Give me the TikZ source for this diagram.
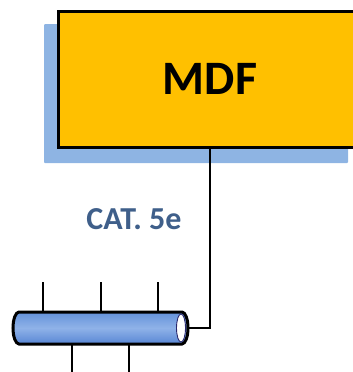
\documentclass[tikz,border=0pt]{standalone}
\usepackage{fontspec}
\setmainfont{Carlito}
\definecolor{shadowblue}{RGB}{142,180,227}
\definecolor{mdfyellow}{RGB}{255,192,0}
\definecolor{catblue}{RGB}{63,95,138}
\definecolor{cyltop}{RGB}{100,146,218}
\definecolor{cylmid}{RGB}{143,178,232}
\definecolor{cylbot}{RGB}{88,134,212}
\definecolor{navy}{RGB}{40,40,110}
\tikzset{
  mdfbox/.style={draw, line width=3pt, fill=mdfyellow, minimum width=304pt, minimum height=136pt, inner sep=0pt, font=\bfseries\fontsize{48}{52}\selectfont},
  cattext/.style={text=catblue, font=\bfseries\fontsize{32}{36}\selectfont, inner sep=0pt},
  tick/.style={line width=1.5pt},
  wire/.style={line width=2.5pt}
}
\begin{document}
\begin{tikzpicture}[x=1pt,y=1pt]
\useasboundingbox (0,0) rectangle (353,-372);
\fill[shadowblue, rounded corners=1pt] (44,-24) rectangle (348,-163);
\node[mdfbox] (mdf) at (210,-79) {MDF};
\node[cattext] (cat) at (134,-219) {CAT. 5e};
% ticks
\foreach \x in {43,101,158} \draw[tick] (\x,-282) -- (\x,-313);
\foreach \x in {72,129} \draw[tick] (\x,-343) -- (\x,-372);
% cylinder
\shade[top color=cyltop, bottom color=cylbot, middle color=cylmid]
  (19,-312) arc[start angle=90, end angle=270, x radius=6pt, y radius=16pt]
  -- (182,-344) arc[start angle=-90, end angle=90, x radius=6pt, y radius=16pt] -- cycle;
\draw[line width=3pt]
  (19,-312) arc[start angle=90, end angle=270, x radius=6pt, y radius=16pt]
  -- (182,-344) arc[start angle=-90, end angle=90, x radius=6pt, y radius=16pt] -- cycle;
\draw[fill=white, draw=navy, line width=0.9pt] (181,-328) ellipse[x radius=4.5pt, y radius=14pt];
\coordinate (cylend) at (188,-328);
\draw[wire] (mdf.south) -- (mdf.south |- cylend) -- (cylend);
\end{tikzpicture}
\end{document}
